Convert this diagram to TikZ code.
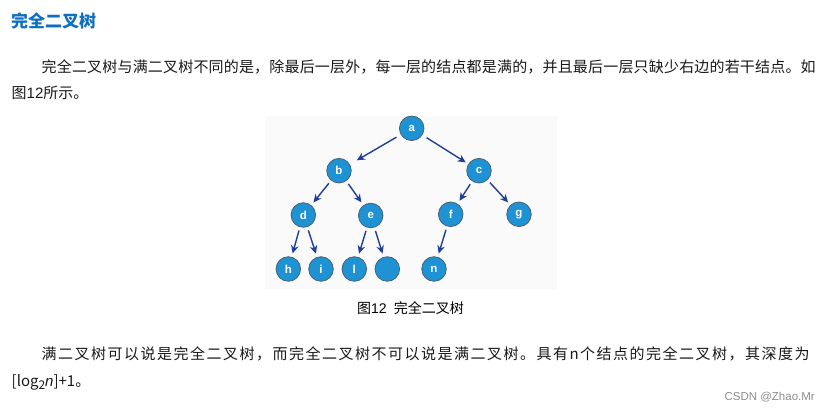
\documentclass[tikz,border=0pt]{standalone}
\usepackage{fontspec}
\setmainfont{Noto Sans CJK SC}
\newfontfamily\latfont{Liberation Sans}
\usetikzlibrary{arrows.meta}

\definecolor{titleblue}{RGB}{14,110,192}
\definecolor{nodeblue}{RGB}{31,146,211}
\definecolor{rimgray}{RGB}{70,90,110}
\definecolor{arrowblue}{RGB}{32,62,152}
\definecolor{figback}{RGB}{250,250,251}

% one line of text spread out to a given width
\newcommand\spreadline[2]{\hbox to #1{\spreadchars#2\relax}}
\def\spreadchars#1#2\relax{#1\ifx\relax#2\relax\else\hfill\spreadchars#2\relax\fi}

\tikzstyle{knot} = [circle, draw=rimgray, line width=0.7pt, fill=nodeblue,
  minimum size=24.6pt, inner sep=0pt, text=white, font=\latfont\bfseries\fontsize{11.5}{13}\selectfont]
\tikzstyle{link} = [draw=arrowblue, line width=1.4pt,
  -{Stealth[length=8pt,width=7.5pt,inset=2.5pt]}, shorten <=3.5pt, shorten >=3.5pt]
\tikzstyle{body} = [anchor=base west, inner sep=0pt, text=black!90, font=\fontsize{15}{18}\selectfont]

\begin{document}
\begin{tikzpicture}[x=1pt, y=-1pt]
\useasboundingbox (0,0) rectangle (828,411);

\node[anchor=base west, inner sep=0pt, text=titleblue, font=\bfseries\fontsize{17}{20}\selectfont] (title) at (11,28) {完全二叉树};

\node[body] (line1) at (41.5,72.5) {\spreadline{774pt}{完全二叉树与满二叉树不同的是，除最后一层外，每一层的结点都是满的，并且最后一层只缺少右边的若干结点。如}};
\node[body] (line2) at (11.5,98.5) {图{\latfont 12}所示。};

% figure
\fill[figback] (265,116) rectangle (557,289);

\node[knot] (a) at (411.7,128.3) {a};
\node[knot] (b) at (339,170.7) {b};
\node[knot] (c) at (479,170.7) {c};
\node[knot] (d) at (303.3,215) {d};
\node[knot] (e) at (370.7,215.5) {e};
\node[knot] (f) at (450.7,214.3) {f};
\node[knot] (g) at (519,214.3) {g};
\node[knot] (h) at (288.3,269) {h};
\node[knot] (i) at (321,269) {i};
\node[knot] (l) at (354.3,269) {l};
\node[knot] (m) at (387.3,269) {};
\node[knot] (n) at (434,269) {n};

\draw[link, shorten <=5pt, shorten >=8pt] (a) -- (b);
\draw[link, shorten <=5pt, shorten >=3pt] (a) -- (c);
\draw[link] (b) -- (d);
\draw[link] (b) -- (e);
\draw[link] (c) -- (f);
\draw[link] (c) -- (g);
\draw[link] (d) -- (h);
\draw[link] (d) -- (i);
\draw[link] (e) -- (l);
\draw[link] (e) -- (m);
\draw[link] (f) -- (n);

\node[anchor=base west, inner sep=0pt, font=\fontsize{14}{16}\selectfont] (caption) at (357,314) {图{\latfont 12}\hspace{7pt}完全二叉树};

\node[body] (line3) at (41.5,360) {\spreadline{768pt}{满二叉树可以说是完全二叉树，而完全二叉树不可以说是满二叉树。具有n个结点的完全二叉树，其深度为}};
\node[body] (line4) at (11.5,387) {[log\raisebox{-3pt}{\fontsize{12}{14}\selectfont 2}{\latfont\itshape n}]+1。};

\node[anchor=base east, inner sep=0pt, text=black!45, font=\latfont\fontsize{11.5}{13}\selectfont] (mark) at (815,401) {CSDN @Zhao.Mr};
\end{tikzpicture}
\end{document}
